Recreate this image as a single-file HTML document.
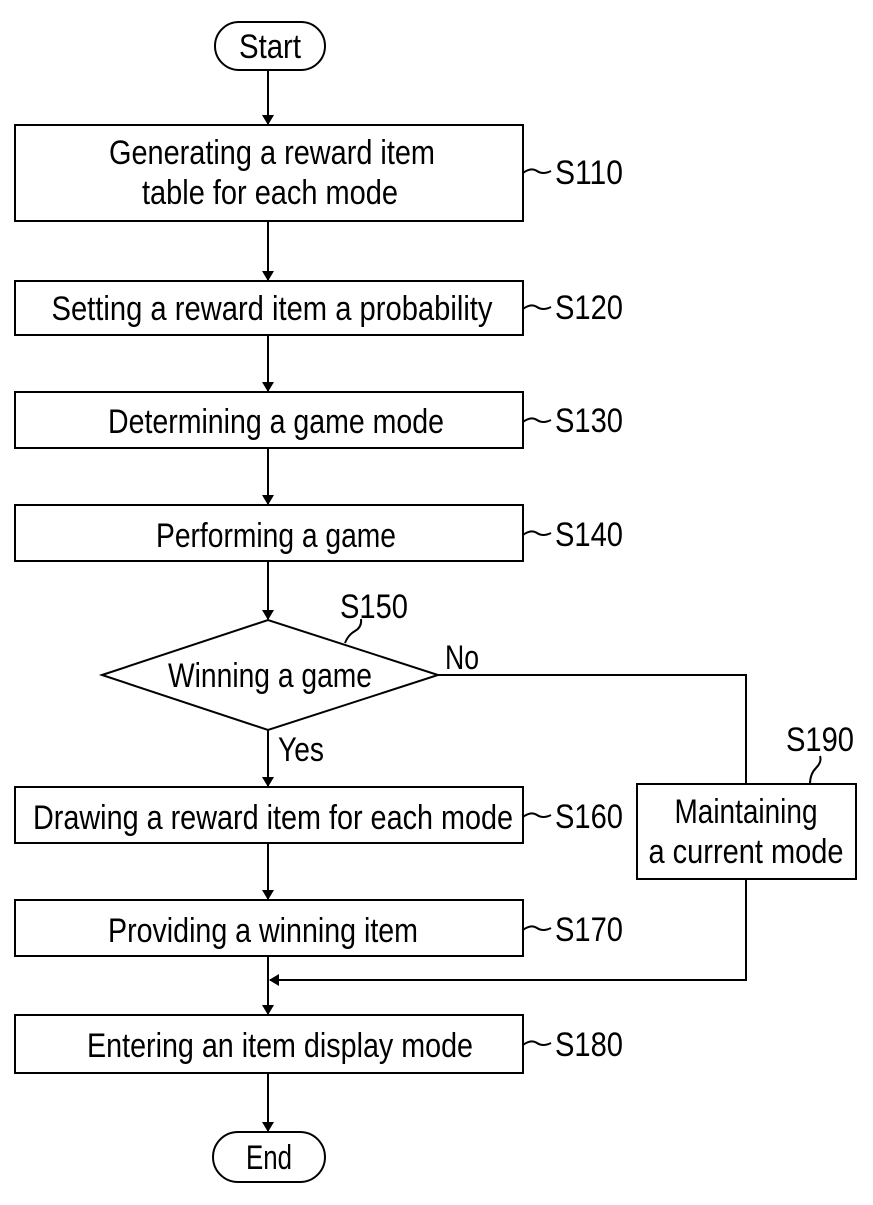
<!DOCTYPE html>
<html><head><meta charset="utf-8"><style>html,body{margin:0;padding:0;background:#fff}</style></head>
<body>
<svg width="873" height="1200" viewBox="0 0 873 1200" xmlns="http://www.w3.org/2000/svg" font-family="Liberation Sans, sans-serif" font-size="34" fill="#000">
<defs><marker id="a" markerWidth="10" markerHeight="12" refX="9" refY="6" orient="auto" markerUnits="userSpaceOnUse"><path d="M0,0 L10,6 L0,12 Z" fill="#000"/></marker></defs>
<g stroke="#000" stroke-width="2" fill="none">
<rect x="215" y="22" width="110" height="48" rx="24"/>
<rect x="15" y="125" width="508" height="96"/>
<rect x="15" y="281" width="508" height="54"/>
<rect x="15" y="392" width="508" height="56"/>
<rect x="15" y="505" width="508" height="56"/>
<polygon points="102,675 268,620 438,675 268,730"/>
<rect x="15" y="787" width="508" height="56"/>
<rect x="15" y="900" width="508" height="56"/>
<rect x="15" y="1015" width="508" height="58"/>
<rect x="213" y="1132" width="112" height="50" rx="25"/>
<rect x="637" y="784" width="219" height="95"/>
<line x1="268" y1="70" x2="268" y2="124" marker-end="url(#a)"/>
<line x1="268" y1="221" x2="268" y2="280" marker-end="url(#a)"/>
<line x1="268" y1="335" x2="268" y2="391" marker-end="url(#a)"/>
<line x1="268" y1="448" x2="268" y2="504" marker-end="url(#a)"/>
<line x1="268" y1="561" x2="268" y2="619" marker-end="url(#a)"/>
<line x1="268" y1="730" x2="268" y2="786" marker-end="url(#a)"/>
<line x1="268" y1="843" x2="268" y2="899" marker-end="url(#a)"/>
<line x1="268" y1="956" x2="268" y2="1014" marker-end="url(#a)"/>
<line x1="268" y1="1073" x2="268" y2="1131" marker-end="url(#a)"/>
<polyline points="438,675 746,675 746,784"/>
<polyline points="746,879 746,980 270,980" marker-end="url(#a)"/>
<path d="M523,173 q8,-6 14,-2 t14,0"/>
<path d="M523,309 q8,-6 14,-2 t14,0"/>
<path d="M523,422 q8,-6 14,-2 t14,0"/>
<path d="M523,535 q8,-6 14,-2 t14,0"/>
<path d="M523,817 q8,-6 14,-2 t14,0"/>
<path d="M523,930 q8,-6 14,-2 t14,0"/>
<path d="M523,1045 q8,-6 14,-2 t14,0"/>
<path d="M345,643 q3,-8 10,-12 t6,-12"/>
<path d="M810,784 q0,-10 6,-16 t4,-12"/>
</g>
<g text-anchor="middle">
<text x="270" y="58" textLength="62" lengthAdjust="spacingAndGlyphs">Start</text>
<text x="272" y="164" textLength="326" lengthAdjust="spacingAndGlyphs">Generating a reward item</text>
<text x="270" y="204" textLength="256" lengthAdjust="spacingAndGlyphs">table for each mode</text>
<text x="272" y="320" textLength="441" lengthAdjust="spacingAndGlyphs">Setting a reward item a probability</text>
<text x="276" y="433" textLength="336" lengthAdjust="spacingAndGlyphs">Determining a game mode</text>
<text x="276" y="547" textLength="240" lengthAdjust="spacingAndGlyphs">Performing a game</text>
<text x="270" y="687" textLength="204" lengthAdjust="spacingAndGlyphs">Winning a game</text>
<text x="273" y="829" textLength="480" lengthAdjust="spacingAndGlyphs">Drawing a reward item for each mode</text>
<text x="263" y="942" textLength="310" lengthAdjust="spacingAndGlyphs">Providing a winning item</text>
<text x="280" y="1057" textLength="386" lengthAdjust="spacingAndGlyphs">Entering an item display mode</text>
<text x="269" y="1169" textLength="46" lengthAdjust="spacingAndGlyphs">End</text>
<text x="746" y="823" textLength="143" lengthAdjust="spacingAndGlyphs">Maintaining</text>
<text x="746" y="863" textLength="195" lengthAdjust="spacingAndGlyphs">a current mode</text>
</g>
<g>
<text x="555" y="184" textLength="68" lengthAdjust="spacingAndGlyphs">S110</text>
<text x="555" y="319" textLength="68" lengthAdjust="spacingAndGlyphs">S120</text>
<text x="555" y="432" textLength="68" lengthAdjust="spacingAndGlyphs">S130</text>
<text x="555" y="546" textLength="68" lengthAdjust="spacingAndGlyphs">S140</text>
<text x="340" y="618" textLength="68" lengthAdjust="spacingAndGlyphs">S150</text>
<text x="445" y="669" textLength="34" lengthAdjust="spacingAndGlyphs">No</text>
<text x="278" y="761" textLength="46" lengthAdjust="spacingAndGlyphs">Yes</text>
<text x="555" y="828" textLength="68" lengthAdjust="spacingAndGlyphs">S160</text>
<text x="555" y="941" textLength="68" lengthAdjust="spacingAndGlyphs">S170</text>
<text x="555" y="1056" textLength="68" lengthAdjust="spacingAndGlyphs">S180</text>
<text x="786" y="751" textLength="68" lengthAdjust="spacingAndGlyphs">S190</text>
</g>
</svg>
</body></html>
